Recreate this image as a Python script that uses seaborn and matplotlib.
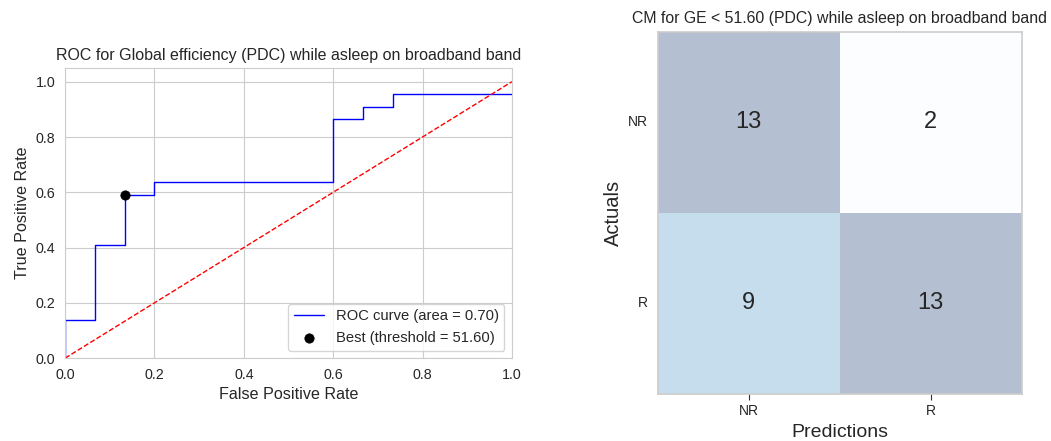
import numpy as np
import pandas as pd
import matplotlib
matplotlib.use("Agg")
import matplotlib.pyplot as plt
import seaborn as sns

# ROC curve vertices (false positive rate, true positive rate)
fpr = [0.0, 0.0, 1/15, 1/15, 2/15, 2/15, 3/15, 3/15, 9/15, 9/15,
       10/15, 10/15, 11/15, 11/15, 1.0]
tpr = [0.0, 3/22, 3/22, 9/22, 9/22, 13/22, 13/22, 14/22, 14/22, 19/22,
       19/22, 20/22, 20/22, 21/22, 21/22]
roc_auc = 0.70

# Operating point chosen as best threshold
best_fpr = [2/15]
best_tpr = [13/22]
best_threshold = 51.60

# Confusion matrix
class_labels = ["NR", "R"]
cm_values = [[13, 2],
             [9, 13]]

sns.set_style("whitegrid")
plt.rcParams["font.family"] = ["Arial", "Liberation Sans", "DejaVu Sans"]

fig = plt.figure(figsize=(10.51, 4.41), dpi=100)
ax1 = fig.add_axes([0.062, 0.188, 0.425, 0.658])
ax2 = fig.add_axes([0.626, 0.107, 0.346, 0.821])

# ROC panel
roc_df = pd.DataFrame({"fpr": fpr, "tpr": tpr})
sns.lineplot(data=roc_df, x="fpr", y="tpr", sort=False, estimator=None,
             color="blue", linewidth=1, ax=ax1,
             label=f"ROC curve (area = {roc_auc:.2f})")
ax1.plot([0, 1], [0, 1], color="red", linestyle="--", linewidth=1)
sns.scatterplot(x=best_fpr, y=best_tpr, color="black", s=45, zorder=5,
                edgecolor="black", ax=ax1,
                label=f"Best (threshold = {best_threshold:.2f})")
ax1.set_xlim(0.0, 1.0)
ax1.set_ylim(0.0, 1.05)
ax1.set_xlabel("False Positive Rate", fontsize=11.6)
ax1.set_ylabel("True Positive Rate", fontsize=11.6)
ax1.set_title("ROC for Global efficiency (PDC) while asleep on broadband band",
              fontsize=11.5)
ax1.tick_params(labelsize=10.3)
ax1.legend(loc="lower right", fontsize=10.6)

# Confusion matrix panel
cm_df = pd.DataFrame(cm_values, index=class_labels, columns=class_labels)
sns.heatmap(cm_df, annot=True, fmt="d", cmap="Blues", alpha=0.3, cbar=False,
            annot_kws={"fontsize": 17, "color": "#262626"}, ax=ax2)
ax2.grid(False)
for spine in ax2.spines.values():
    spine.set_visible(True)
    spine.set_color("#cccccc")
    spine.set_linewidth(1.2)
ax2.set_xlabel("Predictions", fontsize=14)
ax2.set_ylabel("Actuals", fontsize=14.5)
ax2.set_title("CM for GE < 51.60 (PDC) while asleep on broadband band",
              fontsize=11.4)
ax2.tick_params(axis="x", bottom=True, length=4, color="#333333", labelsize=10)
ax2.tick_params(axis="y", left=False, labelsize=10, rotation=0)

fig.savefig("out.png", dpi=100)
